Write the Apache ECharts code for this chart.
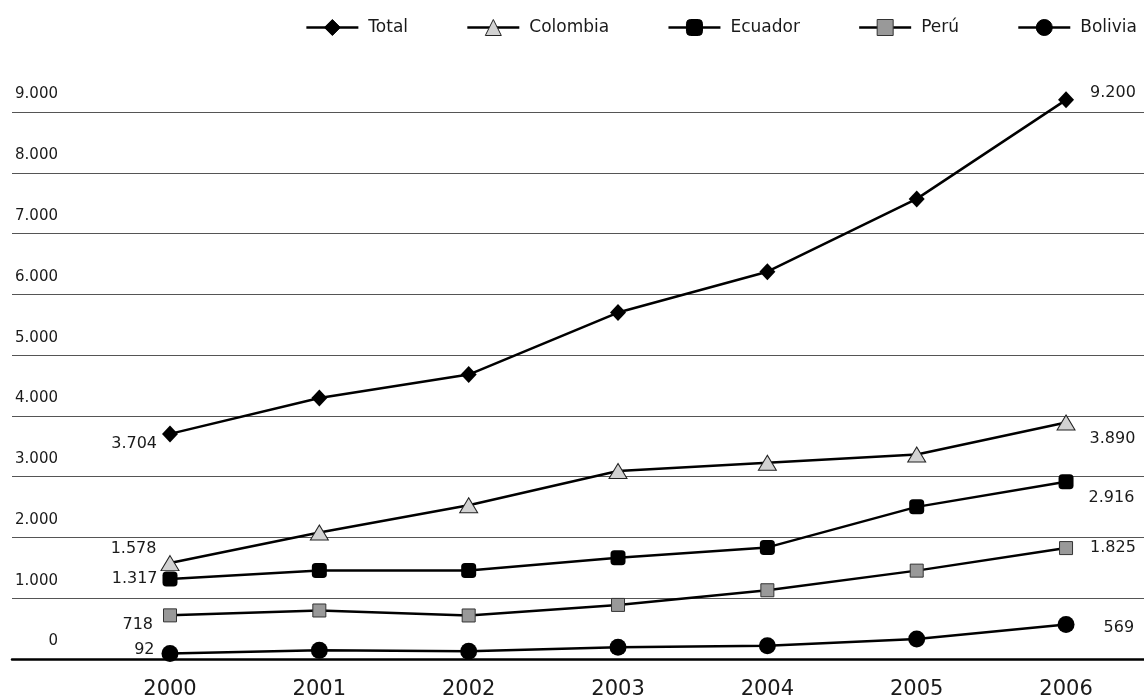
<!DOCTYPE html>
<html>
<head>
<meta charset="utf-8">
<script src="https://cdn.jsdelivr.net/npm/echarts@6/dist/echarts.min.js"></script>
<style>
html,body{margin:0;padding:0;background:#fff;}
#chart{width:1144px;height:700px;}
</style>
</head>
<body>
<div id="chart"></div>
<script>
const years = [2000, 2001, 2002, 2003, 2004, 2005, 2006];
const seriesNames = ['Total', 'Colombia', 'Ecuador', 'Perú', 'Bolivia'];
const total    = [3704, 4295, 4680, 5700, 6372, 7570, 9200];
const colombia = [1578, 2082, 2530, 3093, 3230, 3366, 3890];
const ecuador  = [1317, 1455, 1455, 1667, 1836, 2503, 2916];
const peru     = [718, 798, 716, 890, 1131, 1454, 1825];
const bolivia  = [92, 142, 126, 192, 218, 328, 569];
const yTicks = [0, 1000, 2000, 3000, 4000, 5000, 6000, 7000, 8000, 9000];

const FONT = 'DejaVu Sans';
function fmt(v) {
  return String(v).replace(/\B(?=(\d{3})+(?!\d))/g, '.');
}

const styles = [
  {vals: total, symbol: 'diamond', size: [16, 17], color: '#000', border: '#000', bw: 0,
   first: {position: 'left', distance: 5, offset: [0, 10]},
   last: {position: 'right', distance: 16, offset: [0, -7]}},
  {vals: colombia, symbol: 'triangle', size: [18, 15], color: '#d2d2d2', border: '#222', bw: 1,
   first: {position: 'left', distance: 4, offset: [0, -14]},
   last: {position: 'right', distance: 14, offset: [0, 16]}},
  {vals: ecuador, symbol: 'roundRect', size: [15, 15], color: '#000', border: '#000', bw: 0,
   first: {position: 'left', distance: 5, offset: [0, 0]},
   last: {position: 'right', distance: 15, offset: [0, 16]}},
  {vals: peru, symbol: 'rect', size: [13, 13], color: '#999', border: '#333', bw: 1,
   first: {position: 'left', distance: 10, offset: [0, 9]},
   last: {position: 'right', distance: 17, offset: [0, 0]}},
  {vals: bolivia, symbol: 'circle', size: [17, 17], color: '#000', border: '#000', bw: 0,
   first: {position: 'left', distance: 7, offset: [0, -4]},
   last: {position: 'right', distance: 29, offset: [0, 3]}}
];

const series = styles.map((s, si) => ({
  name: seriesNames[si],
  type: 'line',
  clip: false,
  symbol: s.symbol,
  symbolSize: s.size,
  z: 10 - si,
  lineStyle: {color: '#000', width: 2.5},
  itemStyle: {color: s.color, borderColor: s.border, borderWidth: s.bw},
  emphasis: {disabled: true},
  data: years.map((y, i) => {
    const item = {value: [y, s.vals[i]]};
    const cfg = i === 0 ? s.first : (i === years.length - 1 ? s.last : null);
    if (cfg) {
      item.label = Object.assign({
        show: true,
        fontFamily: FONT,
        fontSize: 16,
        color: '#1a1a1a',
        formatter: p => fmt(p.value[1])
      }, cfg);
    }
    return item;
  })
}));

const chart = echarts.init(document.getElementById('chart'), null, {renderer: 'canvas'});
chart.setOption({
  animation: false,
  backgroundColor: '#fff',
  textStyle: {fontFamily: FONT},
  legend: {
    top: 14,
    right: 2,
    itemWidth: 52,
    itemHeight: 20,
    itemGap: 58,
    lineStyle: {width: 2.5, color: '#000'},
    itemStyle: {borderWidth: 1},
    textStyle: {fontFamily: FONT, fontSize: 17, color: '#1a1a1a', padding: [0, 0, 0, 5]},
    data: seriesNames
  },
  grid: {left: 12, right: 0, top: 112, bottom: 39, containLabel: false},
  xAxis: {
    type: 'value',
    min: 1998.942,
    max: 2006.522,
    splitLine: {show: false},
    axisTick: {show: false},
    axisLine: {show: true, lineStyle: {color: '#000', width: 2.5}},
    axisLabel: {
      customValues: years,
      fontFamily: FONT,
      fontSize: 21,
      color: '#1a1a1a',
      margin: 20,
      formatter: v => String(v)
    }
  },
  yAxis: {
    type: 'value',
    min: 0,
    max: 9000,
    interval: 1000,
    axisLine: {show: false},
    axisTick: {show: false},
    splitLine: {lineStyle: {color: '#555', width: 1}},
    axisLabel: {
      inside: true,
      customValues: yTicks,
      align: 'right',
      verticalAlign: 'bottom',
      margin: 46,
      lineHeight: 15,
      padding: [0, 0, 10, 0],
      fontFamily: FONT,
      fontSize: 15,
      color: '#1a1a1a',
      formatter: v => fmt(v)
    }
  },
  series: series
});
</script>
</body>
</html>
